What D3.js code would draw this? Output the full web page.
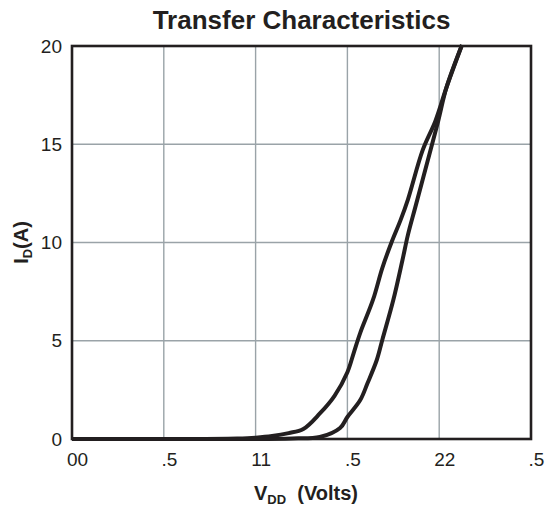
<!DOCTYPE html>
<html>
<head>
<meta charset="utf-8">
<script src="https://cdn.jsdelivr.net/npm/d3@7"></script>
<style>
  body { margin: 0; background: #fff; }
  text { font-family: "Liberation Sans", Arial, sans-serif; fill: #231f20; }
</style>
</head>
<body>
<div id="chart"></div>
<script>
// tick values and the (odd) labels printed under them
const xTicks = [0, 0.5, 1, 1.5, 2, 2.5];
const xLabels = ["00", ".5", "11", ".5", "22", ".5"];
const yTicks = [0, 5, 10, 15, 20];

// the two traces (V, A)
const leftX = [0, 0.5, 0.9, 1.0, 1.09, 1.18, 1.26, 1.35, 1.43, 1.5, 1.535, 1.57, 1.64, 1.69, 1.74, 1.79, 1.83, 1.91, 1.98, 2.04, 2.124];
const leftY = [0, 0, 0.03, 0.07, 0.15, 0.3, 0.51, 1.3, 2.2, 3.4, 4.4, 5.4, 7.1, 8.7, 10.0, 11.15, 12.2, 14.7, 16.2, 17.9, 20.05];
const rightX = [0, 0.5, 1.0, 1.2, 1.35, 1.46, 1.5, 1.57, 1.61, 1.66, 1.69, 1.75, 1.8, 1.83, 1.87, 1.95, 1.995, 2.04, 2.124];
const rightY = [0, 0, 0, 0.03, 0.1, 0.56, 1.12, 1.98, 2.85, 4.02, 5.04, 7.07, 9.11, 10.4, 11.8, 14.6, 16.2, 17.9, 20.05];

let w = 552;
let h = 510;
let mLeft = 72, mRight = 531, mTop = 46, mBottom = 439;

let svg = d3.select("#chart")
    .append("svg")
    .attr("width", w)
    .attr("height", h);

let x = d3.scaleLinear().domain([0, 2.5]).range([mLeft, mRight]);
let y = d3.scaleLinear().domain([0, 20]).range([mBottom, mTop]);

// grid
svg.append("g")
    .selectAll("line")
    .data(xTicks.slice(1, -1))
    .enter()
    .append("line")
    .attr("x1", d => x(d)).attr("x2", d => x(d))
    .attr("y1", mTop).attr("y2", mBottom)
    .attr("stroke", "#9aa3a8")
    .attr("stroke-width", 1.4);
svg.append("g")
    .selectAll("line")
    .data(yTicks.slice(1, -1))
    .enter()
    .append("line")
    .attr("x1", mLeft).attr("x2", mRight)
    .attr("y1", d => y(d)).attr("y2", d => y(d))
    .attr("stroke", "#9aa3a8")
    .attr("stroke-width", 1.4);

// axes (labels only)
let xAxis = d3.axisBottom(x).tickValues(xTicks)
    .tickFormat((d, i) => xLabels[i]).tickSize(0).tickPadding(14);
let gx = svg.append("g").attr("transform", "translate(0," + mBottom + ")").call(xAxis);
gx.select(".domain").remove();
gx.selectAll("text").attr("font-size", 19).attr("dx", 5)
    .style("font-family", "'Liberation Sans', Arial, sans-serif").attr("fill", "#231f20");

let yAxis = d3.axisLeft(y).tickValues(yTicks).tickSize(0).tickPadding(10);
let gy = svg.append("g").attr("transform", "translate(" + mLeft + ",0)").call(yAxis);
gy.select(".domain").remove();
gy.selectAll("text").attr("font-size", 19)
    .style("font-family", "'Liberation Sans', Arial, sans-serif").attr("fill", "#231f20");

// curves
let line = d3.line()
    .x(d => x(d[0]))
    .y(d => y(d[1]))
    .curve(d3.curveCatmullRom.alpha(0.5));

[[leftX, leftY], [rightX, rightY]].forEach(s => {
    svg.append("path")
        .datum(s[0].map((v, i) => [v, s[1][i]]))
        .attr("d", line)
        .attr("fill", "none")
        .attr("stroke", "#231f20")
        .attr("stroke-width", 4)
        .attr("stroke-linejoin", "round");
});

// frame
svg.append("rect")
    .attr("x", mLeft).attr("y", mTop)
    .attr("width", mRight - mLeft).attr("height", mBottom - mTop)
    .attr("fill", "none")
    .attr("stroke", "#231f20")
    .attr("stroke-width", 2.6);

// title
svg.append("text")
    .attr("x", (mLeft + mRight) / 2).attr("y", 29)
    .attr("text-anchor", "middle")
    .attr("font-size", 26).attr("font-weight", "bold")
    .text("Transfer Characteristics");

// x label
let xl = svg.append("text")
    .attr("x", 306).attr("y", 500)
    .attr("text-anchor", "middle")
    .attr("font-size", 20).attr("font-weight", "bold");
xl.append("tspan").text("V");
xl.append("tspan").attr("font-size", 13).attr("dy", 4).text("DD");
xl.append("tspan").attr("dy", -4).text("\u00a0 (Volts)");

// y label
let yl = svg.append("text")
    .attr("transform", "translate(28," + ((mTop + mBottom) / 2) + ") rotate(-90)")
    .attr("text-anchor", "middle")
    .attr("font-size", 20).attr("font-weight", "bold");
yl.append("tspan").text("I");
yl.append("tspan").attr("font-size", 13).attr("dy", 4).text("D");
yl.append("tspan").attr("dy", -4).text("(A)");
</script>
</body>
</html>
